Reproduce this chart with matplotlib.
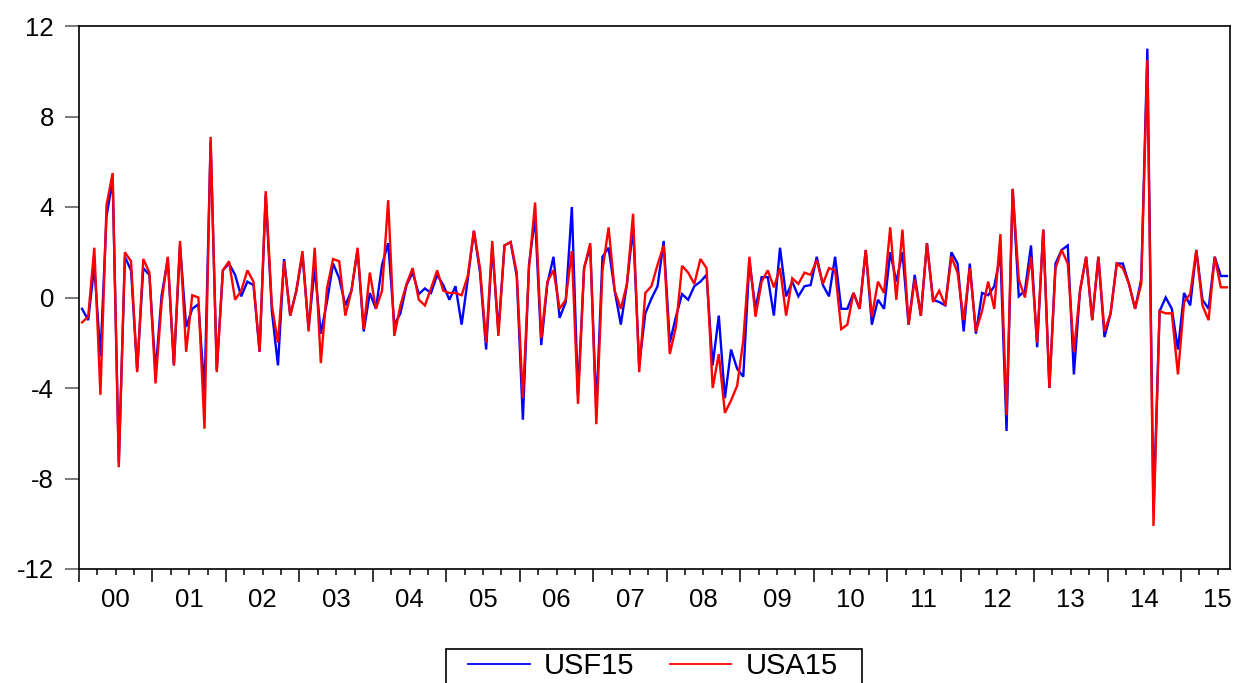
import matplotlib
matplotlib.use("Agg")
import matplotlib.pyplot as plt
from matplotlib.lines import Line2D
from matplotlib.patches import Rectangle
import numpy as np

plt.rcParams['font.family'] = ['Liberation Sans', 'DejaVu Sans']
plt.rcParams['axes.unicode_minus'] = False

# Monthly observations, Jan 2000 - Aug 2015
year_labels = ["00", "01", "02", "03", "04", "05", "06", "07",
               "08", "09", "10", "11", "12", "13", "14", "15"]

usf15 = [
    -0.5, -1.0, 1.4, -2.6, 3.6, 5.2, -7.3, 1.8, 1.2, -3.2, 1.3, 1.0,
    -3.3, 0.1, 1.7, -3.0, 2.3, -1.3, -0.5, -0.3, -4.2, 6.9, -3.2, 1.2,
    1.5, 1.0, 0.05, 0.7, 0.55, -2.4, 4.55, -0.6, -3.0, 1.7, -0.8, 0.3,
    1.9, -1.35, 1.3, -1.6, -0.2, 1.5, 0.85, -0.35, 0.3, 2.1, -1.5, 0.2,
    -0.5, 1.45, 2.4, -1.2, -0.7, 0.55, 1.1, 0.15, 0.4, 0.2, 1.0, 0.55,
    -0.1, 0.5, -1.2, 0.8, 2.95, 1.1, -2.3, 2.25, -1.5, 2.3, 2.45, 0.95,
    -5.4, 1.45, 3.55, -2.1, 0.6, 1.8, -0.9, -0.2, 4.0, -4.3, 1.3, 2.25,
    -4.95, 1.8, 2.2, 0.3, -1.2, 0.6, 3.1, -3.0, -0.7, -0.05, 0.5, 2.5,
    -2.0, -0.85, 0.15, -0.1, 0.5, 0.7, 1.0, -3.0, -0.8, -4.45, -2.3, -3.15,
    -3.5, 1.6, -0.5, 0.9, 0.9, -0.8, 2.2, 0.05, 0.7, 0.05, 0.5, 0.55,
    1.8, 0.55, 0.05, 1.8, -0.5, -0.5, 0.2, -0.5, 2.1, -1.2, -0.1, -0.5,
    2.0, 0.7, 2.0, -1.2, 1.0, -0.8, 2.4, -0.1, -0.2, -0.35, 2.0, 1.5,
    -1.5, 1.5, -1.6, 0.2, 0.1, 0.5, 1.9, -5.9, 4.8, 0.05, 0.3, 2.3,
    -2.2, 3.0, -4.0, 1.5, 2.1, 2.3, -3.4, 0.3, 1.8, -1.0, 1.8, -1.75,
    -0.7, 1.5, 1.5, 0.6, -0.5, 0.8, 11.0, -9.45, -0.6, 0.0, -0.5, -2.3,
    0.2, -0.35, 2.1, -0.1, -0.5, 1.8, 0.95, 0.95,
]

usa15 = [
    -1.1, -0.85, 2.2, -4.3, 4.1, 5.5, -7.5, 2.0, 1.6, -3.3, 1.7, 1.1,
    -3.8, -0.2, 1.8, -3.0, 2.5, -2.4, 0.1, 0.0, -5.8, 7.1, -3.3, 1.2,
    1.6, -0.1, 0.3, 1.2, 0.7, -2.4, 4.7, -0.35, -2.0, 1.6, -0.8, 0.3,
    2.05, -1.5, 2.2, -2.9, 0.4, 1.7, 1.6, -0.8, 0.3, 2.2, -1.4, 1.1,
    -0.5, 0.3, 4.3, -1.7, -0.35, 0.6, 1.3, -0.1, -0.35, 0.4, 1.2, 0.3,
    0.2, 0.2, 0.1, 0.95, 2.95, 1.3, -2.0, 2.5, -1.7, 2.3, 2.45, 1.1,
    -4.45, 1.3, 4.2, -1.8, 0.7, 1.2, -0.5, -0.1, 2.05, -4.7, 1.3, 2.4,
    -5.6, 1.2, 3.1, 0.3, -0.5, 0.6, 3.7, -3.3, 0.2, 0.5, 1.45, 2.3,
    -2.5, -1.3, 1.4, 1.1, 0.6, 1.7, 1.3, -4.0, -2.5, -5.1, -4.55, -3.9,
    -1.9, 1.8, -0.85, 0.7, 1.2, 0.45, 1.3, -0.8, 0.85, 0.6, 1.1, 1.0,
    1.65, 0.6, 1.3, 1.2, -1.4, -1.2, 0.2, -0.5, 2.1, -0.85, 0.7, 0.2,
    3.1, -0.1, 3.0, -1.2, 0.8, -0.8, 2.4, -0.2, 0.3, -0.35, 1.8, 1.1,
    -1.0, 1.3, -1.5, -0.6, 0.7, -0.5, 2.8, -5.2, 4.8, 0.8, 0.0, 1.8,
    -2.0, 3.0, -4.0, 1.3, 2.1, 1.5, -2.4, 0.3, 1.8, -1.0, 1.8, -1.5,
    -0.7, 1.5, 1.3, 0.6, -0.5, 0.6, 10.5, -10.1, -0.6, -0.7, -0.7, -3.4,
    -0.2, 0.15, 2.1, -0.35, -1.0, 1.8, 0.45, 0.45,
]

W, H = 1235, 683
fig = plt.figure(figsize=(W / 100, H / 100), dpi=100)
ax = fig.add_axes([79 / W, 1 - 569 / H, (1230 - 79) / W, (569 - 26) / H])

n = len(usf15)
x = np.arange(n) + 0.5
ax.plot(x, usf15, color=(0, 0, 1), lw=1.7, solid_joinstyle='miter')
ax.plot(x, usa15, color=(1, 0, 0), lw=1.7, solid_joinstyle='miter')

ax.set_xlim(0, n)
ax.set_ylim(-12, 12)

# y axis
ax.set_yticks(np.arange(-12, 13, 4))
ax.tick_params(axis='y', which='major', direction='out', length=10,
               width=1.1, color='#555555', labelsize=18.5, pad=8)

# x axis: year boundaries (major), quarters (minor) with labels mid-year
ax.set_xticks(np.arange(0, n + 1, 12))
ax.set_xticklabels([])
quarters = np.arange(3, n + 1, 3)
quarters = quarters[quarters % 12 != 0]
ax.set_xticks(quarters, minor=True)
qlabels = []
for q in quarters:
    if q % 12 == 6:
        qlabels.append(year_labels[q // 12])
    else:
        qlabels.append("")
ax.set_xticklabels(qlabels, minor=True)
ax.tick_params(axis='x', which='major', direction='out', length=9,
               width=1.1, color='black')
ax.tick_params(axis='x', which='minor', direction='out', length=4,
               width=1.1, color='black', labelsize=18.5, pad=10)

for s in ax.spines.values():
    s.set_linewidth(1.2)
    s.set_color('black')

# legend (frame drawn separately so it runs off the bottom edge as in the source)
handles = [Line2D([], [], color=(0, 0, 1), lw=1.3),
           Line2D([], [], color=(1, 0, 0), lw=1.3)]
leg = fig.legend(handles, ["USF15", "USA15"], loc='center',
                 bbox_to_anchor=(653 / W, 1 - 666 / H), ncol=2,
                 fontsize=21, frameon=False,
                 handlelength=2.1, handletextpad=0.5,
                 columnspacing=1.2, borderpad=0.0, borderaxespad=0)
frame = Rectangle((446 / W, -10 / H), (862 - 446) / W, (10 + 683 - 649) / H,
                  transform=fig.transFigure, fill=False, edgecolor='black',
                  linewidth=1.2, clip_on=False)
fig.patches.append(frame)

fig.savefig("out.png", dpi=100)
